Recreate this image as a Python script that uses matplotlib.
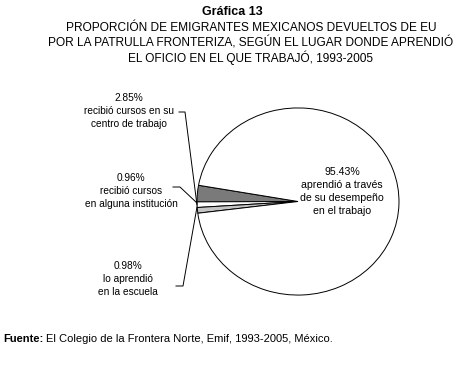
import matplotlib
matplotlib.use("Agg")
import matplotlib.pyplot as plt

plt.rcParams['font.family'] = ['Liberation Sans', 'DejaVu Sans']

# datos
valores = [2.85, 0.96, 0.98, 95.43]
etiquetas = ["recibió cursos en su\ncentro de trabajo",
             "recibió cursos\nen alguna institución",
             "lo aprendió\nen la escuela",
             "aprendió a través\nde su desempeño\nen el trabajo"]
colores = ["#7a7a7a", "#ffffff", "#c4c4c4", "#ffffff"]

W, H = 463, 368
fig = plt.figure(figsize=(W / 100, H / 100), dpi=100)


def px(x, y):
    return x / W, 1 - y / H


# pie (ligeramente achatado)
ax = fig.add_axes([196 / W, 72 / H, 204 / W, 189 / H])
ax.pie(valores, colors=colores, startangle=170, counterclock=True,
       wedgeprops=dict(edgecolor="black", linewidth=0.7))
ax.set_aspect("auto")
ax.set_xlim(-1.01, 1.01)
ax.set_ylim(-1.01, 1.01)
ax.axis("off")

# titulos
fig.text(*px(232, 12), "Gráfica 13", ha="center", va="center", fontsize=9, fontweight="semibold")
titulo = ["PROPORCIÓN DE EMIGRANTES MEXICANOS DEVUELTOS DE EU",
          "POR LA PATRULLA FRONTERIZA, SEGÚN EL LUGAR DONDE APRENDIÓ",
          "EL OFICIO EN EL QUE TRABAJÓ, 1993-2005"]
for i, t in enumerate(titulo):
    fig.text(*px(251, 28 + 15 * i), t, ha="center", va="center", fontsize=8.6)

# etiquetas de los sectores pequenos
pos_lab = [(129, 93), (131, 173), (128, 261)]
for v, lab, (x, y) in zip(valores[:3], etiquetas[:3], pos_lab):
    txt = f"{v:.2f}%\n{lab}"
    fig.text(*px(x, y), txt, ha="center", va="top", fontsize=7.3,
             linespacing=1.38)

# lineas guia
guias = [[(179, 112), (185, 112), (197, 205)],
         [(173, 187), (180, 187), (197, 203)],
         [(176, 286), (183, 286), (197, 207)]]
for g in guias:
    xs = [p[0] / W for p in g]
    ys = [1 - p[1] / H for p in g]
    fig.add_artist(plt.Line2D(xs, ys, color="black", lw=0.7, transform=fig.transFigure))

# etiqueta del sector grande
fig.text(*px(342, 167), f"{valores[3]:.2f}%\n{etiquetas[3]}", ha="center", va="top",
         fontsize=7.6, linespacing=1.38)

# fuente
t1 = fig.text(*px(3, 339), "Fuente:", ha="left", va="center", fontsize=8.0, fontweight="bold")
fig.canvas.draw()
bb = t1.get_window_extent()
fig.text(bb.x1 / W + 3 / W, 1 - 339 / H, "El Colegio de la Frontera Norte, Emif, 1993-2005, México.",
         ha="left", va="center", fontsize=8.0)

fig.savefig("out.png", dpi=100)
